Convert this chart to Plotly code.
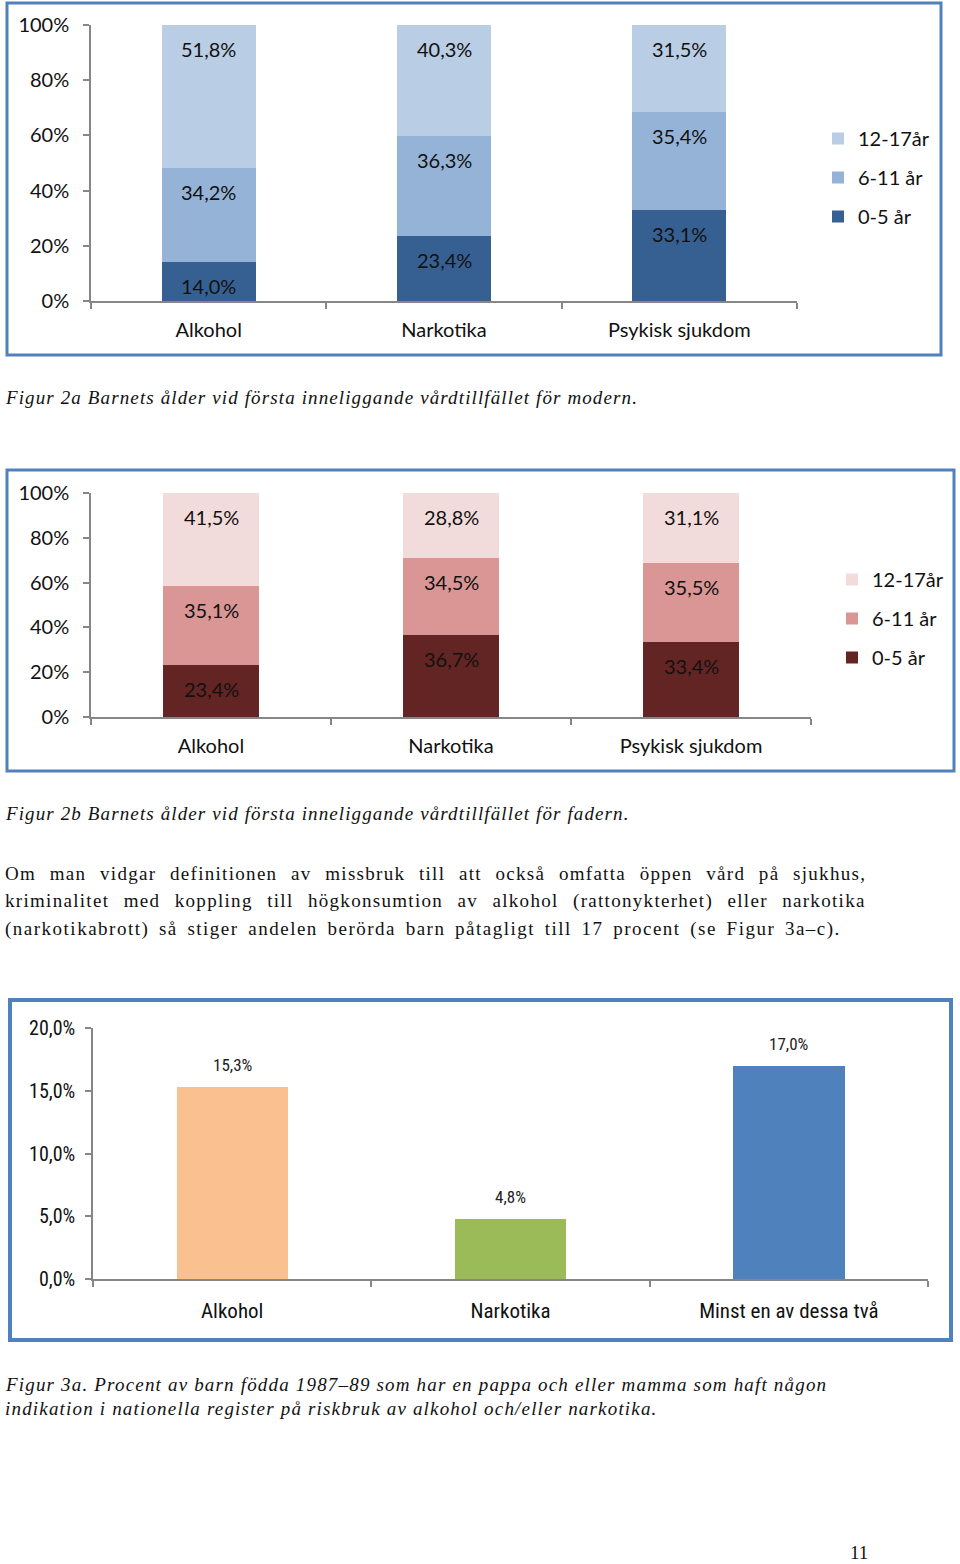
import plotly.graph_objects as go

W, H = 960, 1564

# ---------------- data ----------------
cats_a = ["Alkohol", "Narkotika", "Psykisk sjukdom"]
series_names = ["0-5 år", "6-11 år", "12-17år"]
legend_ranks = [3, 2, 1]
mor_05 = [14.0, 23.4, 33.1]
mor_611 = [34.2, 36.3, 35.4]
mor_1217 = [51.8, 40.3, 31.5]

far_05 = [23.4, 36.7, 33.4]
far_611 = [35.1, 34.5, 35.5]
far_1217 = [41.5, 28.8, 31.1]

pct_ticks = [0, 20, 40, 60, 80, 100]
pct_ticktext = ["0%", "20%", "40%", "60%", "80%", "100%"]

cats_b = ["Alkohol", "Narkotika", "Minst en av dessa två"]
vals_b = [15.3, 4.8, 17.0]
b_ticks = [0, 5, 10, 15, 20]
b_ticktext = ["0,0%", "5,0%", "10,0%", "15,0%", "20,0%"]

blue_cols = ["#376092", "#95B3D7", "#B9CDE5"]
red_cols = ["#632523", "#D99694", "#F2DCDB"]
bar_b_cols = ["#FAC090", "#9BBB59", "#4F81BD"]

def fmt(v):
    return f"{v:.1f}".replace(".", ",") + "%"

def px_x(p):
    return p / W

def px_y(p):
    return 1 - p / H

SANS = "Lato, 'Open Sans', sans-serif"
NARROW = "'Liberation Sans Narrow', 'Arial Narrow', 'Roboto Condensed', sans-serif"
SERIF = "'Liberation Serif', 'Times New Roman', serif"
AXC = "#868686"

fig = go.Figure()

annotations = []

def add_stack(series, cols, xa, ya, legend, prefix):
    cum = [0, 0, 0]
    for name, vals, col, rank in zip(series_names, series, cols, legend_ranks):
        fig.add_trace(go.Bar(
            x=cats_a, y=vals, name=name, marker=dict(color=col, line=dict(width=0)),
            width=0.4, xaxis=xa, yaxis=ya, legend=legend, legendrank=rank,
            legendgroup=prefix + name, hoverinfo="skip"))
        for i, v in enumerate(vals):
            cum[i] += v
            annotations.append(dict(
                x=cats_a[i], y=cum[i], xref=xa, yref=ya, text=fmt(v),
                showarrow=False, yanchor="middle", yshift=-24,
                font=dict(family=SANS, size=20, color="#111111")))

add_stack([mor_05, mor_611, mor_1217], blue_cols, "x", "y", "legend", "m")
add_stack([far_05, far_611, far_1217], red_cols, "x2", "y2", "legend2", "f")

fig.add_trace(go.Bar(
    x=cats_b, y=vals_b, marker=dict(color=bar_b_cols, line=dict(width=0)),
    width=0.4, xaxis="x3", yaxis="y3", showlegend=False, hoverinfo="skip"))
for c, v in zip(cats_b, vals_b):
    annotations.append(dict(
        x=c, y=v, xref="x3", yref="y3", text=fmt(v), showarrow=False,
        yanchor="middle", yshift=22,
        font=dict(family=NARROW, size=17, color="#222222")))

def xaxis(dom, anchor, size, fam, standoff):
    return dict(domain=dom, anchor=anchor, type="category", range=[-0.5, 2.5], showline=True,
                linecolor=AXC, linewidth=1.5, ticks="outside", tickson="boundaries",
                ticklen=6, tickcolor=AXC, tickwidth=1.5, showgrid=False,
                zeroline=False, fixedrange=True, ticklabelstandoff=standoff,
                automargin=False,
                tickfont=dict(family=fam, size=size, color="#111111"))

def yaxis(dom, anchor, rng, tv, tt, size, fam, standoff):
    return dict(domain=dom, anchor=anchor, range=rng, tickvals=tv, ticktext=tt, showline=True,
                linecolor=AXC, linewidth=1.5, ticks="outside", ticklen=6,
                tickcolor=AXC, tickwidth=1.5, showgrid=False, zeroline=False,
                fixedrange=True, ticklabelstandoff=standoff, automargin=False,
                tickfont=dict(family=fam, size=size, color="#111111"))

shapes = []
def border(x0, y0, x1, y1, w):
    shapes.append(dict(type="rect", xref="paper", yref="paper",
                       x0=px_x(x0), x1=px_x(x1), y0=px_y(y1), y1=px_y(y0),
                       line=dict(color="#4F81BD", width=w), fillcolor="rgba(0,0,0,0)",
                       layer="below"))

border(7, 3, 941, 355, 3)
border(7, 470, 954, 771, 3)
border(10, 1000, 951, 1340, 4)

def text(x, y, s, font, size, italic=False, spacing=0, wspacing=0, anchor="left"):
    style = ""
    if spacing:
        style += f"letter-spacing:{spacing}px;"
    if wspacing:
        style += f"word-spacing:{wspacing}px;"
    body = f'<span style="{style}">{s}</span>' if style else s
    if italic:
        body = "<i>" + body + "</i>"
    annotations.append(dict(x=px_x(x), y=px_y(y), xref="paper", yref="paper",
                            text=body, showarrow=False, xanchor=anchor, yanchor="middle",
                            font=dict(family=font, size=size, color="#111111")))

text(3, 397, "Figur 2a Barnets ålder vid första inneliggande vårdtillfället för modern.", SERIF, 19, True, 1.12)
text(3, 813, "Figur 2b Barnets ålder vid första inneliggande vårdtillfället för fadern.", SERIF, 19, True, 1.12)
text(3, 873, "Om man vidgar definitionen av missbruk till att också omfatta öppen vård på sjukhus,", SERIF, 19, False, 1.3, 7.6)
text(3, 901, "kriminalitet med koppling till högkonsumtion av alkohol (rattonykterhet) eller narkotika", SERIF, 19, False, 1.3, 8.4)
text(3, 929, "(narkotikabrott) så stiger andelen berörda barn påtagligt till 17 procent (se Figur 3a–c).", SERIF, 19, False, 1.5, 3.4)
text(3, 1384, "Figur 3a. Procent av barn födda 1987–89 som har en pappa och eller mamma som haft någon", SERIF, 19, True, 1.18)
text(3, 1408, "indikation i nationella register på riskbruk av alkohol och/eller narkotika.", SERIF, 19, True, 1.18)
text(859, 1552, "11", SERIF, 19, anchor="center")

legend_common = dict(xanchor="left", yanchor="top", bgcolor="rgba(0,0,0,0)",
                     traceorder="grouped", tracegroupgap=10,
                     font=dict(family=SANS, size=20, color="#111111"))

fig.update_layout(
    width=W, height=H, margin=dict(l=0, r=0, t=0, b=0, autoexpand=False),
    paper_bgcolor="white", plot_bgcolor="white", barmode="stack",
    xaxis=xaxis([px_x(91), px_x(797)], "y", 20, SANS, 10),
    yaxis=yaxis([px_y(301), px_y(25)], "x", [0, 100], pct_ticks, pct_ticktext, 20, SANS, 10),
    xaxis2=xaxis([px_x(91), px_x(811)], "y2", 20, SANS, 10),
    yaxis2=yaxis([px_y(717), px_y(493)], "x2", [0, 100], pct_ticks, pct_ticktext, 20, SANS, 10),
    xaxis3=xaxis([px_x(93), px_x(928)], "y3", 21, NARROW, 12),
    yaxis3=yaxis([px_y(1279), px_y(1028)], "x3", [0, 20], b_ticks, b_ticktext, 20, NARROW, 6),
    legend=dict(x=px_x(818), y=px_y(119), **legend_common),
    legend2=dict(x=px_x(832), y=px_y(560), **legend_common),
    shapes=shapes, annotations=annotations, showlegend=True,
)

fig.write_html("out.html", config={"displayModeBar": False},
               post_script="document.body.style.margin='0';")
